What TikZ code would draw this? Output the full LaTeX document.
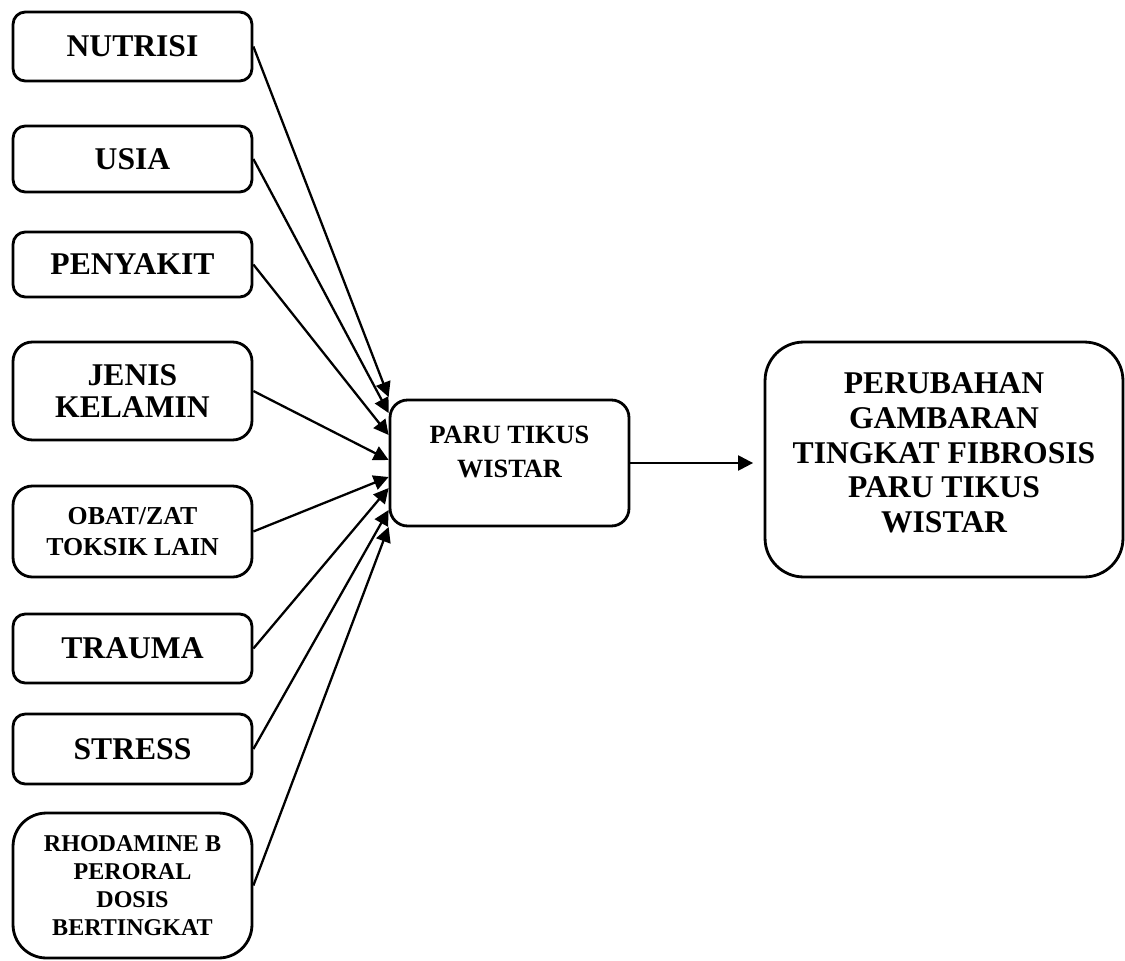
\documentclass[tikz,border=0pt]{standalone}
\usepackage{fontspec}
\setmainfont{Liberation Serif}
\usetikzlibrary{shapes}
\usetikzlibrary{arrows.meta}

\begin{document}
\begin{tikzpicture}[x=0.02cm,y=-0.02cm,
		kotak/.style={draw,line width=1.6pt,align=center,inner sep=0pt,minimum width=4.78cm},
		besar/.style={font=\bfseries\fontsize{18}{18.7}\selectfont},
		panah/.style={line width=1.3pt,-{Triangle[length=8.5pt,width=8.5pt]}}]
	\useasboundingbox (0,0) rectangle (1125,960);
	% faktor-faktor di kiri
	\node[kotak,besar,rounded corners=7pt,minimum height=1.38cm] (nutrisi) at (132.5,46.5) {NUTRISI};
	\node[kotak,besar,rounded corners=7pt,minimum height=1.32cm] (usia) at (132.5,159) {USIA};
	\node[kotak,besar,rounded corners=7pt,minimum height=1.30cm] (penyakit) at (132.5,264.5) {PENYAKIT};
	\node[kotak,besar,rounded corners=11pt,minimum height=1.96cm] (kelamin) at (132.5,391) {JENIS\\KELAMIN};
	\node[kotak,rounded corners=11pt,minimum height=1.82cm,font=\bfseries\fontsize{14.7}{17.6}\selectfont] (obat) at (132.5,531.5) {OBAT/ZAT\\TOKSIK LAIN};
	\node[kotak,besar,rounded corners=7pt,minimum height=1.38cm] (trauma) at (132.5,648.5) {TRAUMA};
	\node[kotak,besar,rounded corners=7pt,minimum height=1.40cm] (stress) at (132.5,749) {STRESS};
	\node[kotak,rounded corners=19pt,minimum height=2.90cm,font=\bfseries\fontsize{13.7}{15.9}\selectfont] (rhodamine) at (132.5,885.5) {RHODAMINE B\\PERORAL\\DOSIS\\BERTINGKAT};
	% tengah dan hasil
	\node[kotak,rounded corners=10pt,minimum height=2.52cm,font=\bfseries\fontsize{15}{19.8}\selectfont] (paru) at (509.5,463) {PARU TIKUS\\WISTAR\\[-7pt]~};
	\node[kotak,rounded corners=22pt,minimum width=7.16cm,minimum height=4.70cm,font=\bfseries\fontsize{18}{19.8}\selectfont] (hasil) at (944,459.5) {PERUBAHAN\\GAMBARAN\\TINGKAT FIBROSIS\\PARU TIKUS\\WISTAR\\[-12pt]~};

	\draw[panah] (nutrisi.east) -- ([yshift=1.32cm]paru.west);
	\draw[panah] (usia.east) -- ([yshift=1.0cm]paru.west);
	\draw[panah] (penyakit.east) -- ([yshift=0.56cm]paru.west);
	\draw[panah] (kelamin.east) -- ([yshift=0.06cm]paru.west);
	\draw[panah] (obat.east) -- ([yshift=-0.28cm]paru.west);
	\draw[panah] (trauma.east) -- ([yshift=-0.5cm]paru.west);
	\draw[panah] (stress.east) -- ([yshift=-0.94cm]paru.west);
	\draw[panah] (rhodamine.east) -- ([yshift=-1.28cm]paru.west);
	\draw[panah,shorten >=6pt] (paru.east) -- (paru.east -| hasil.west);
\end{tikzpicture}
\end{document}
